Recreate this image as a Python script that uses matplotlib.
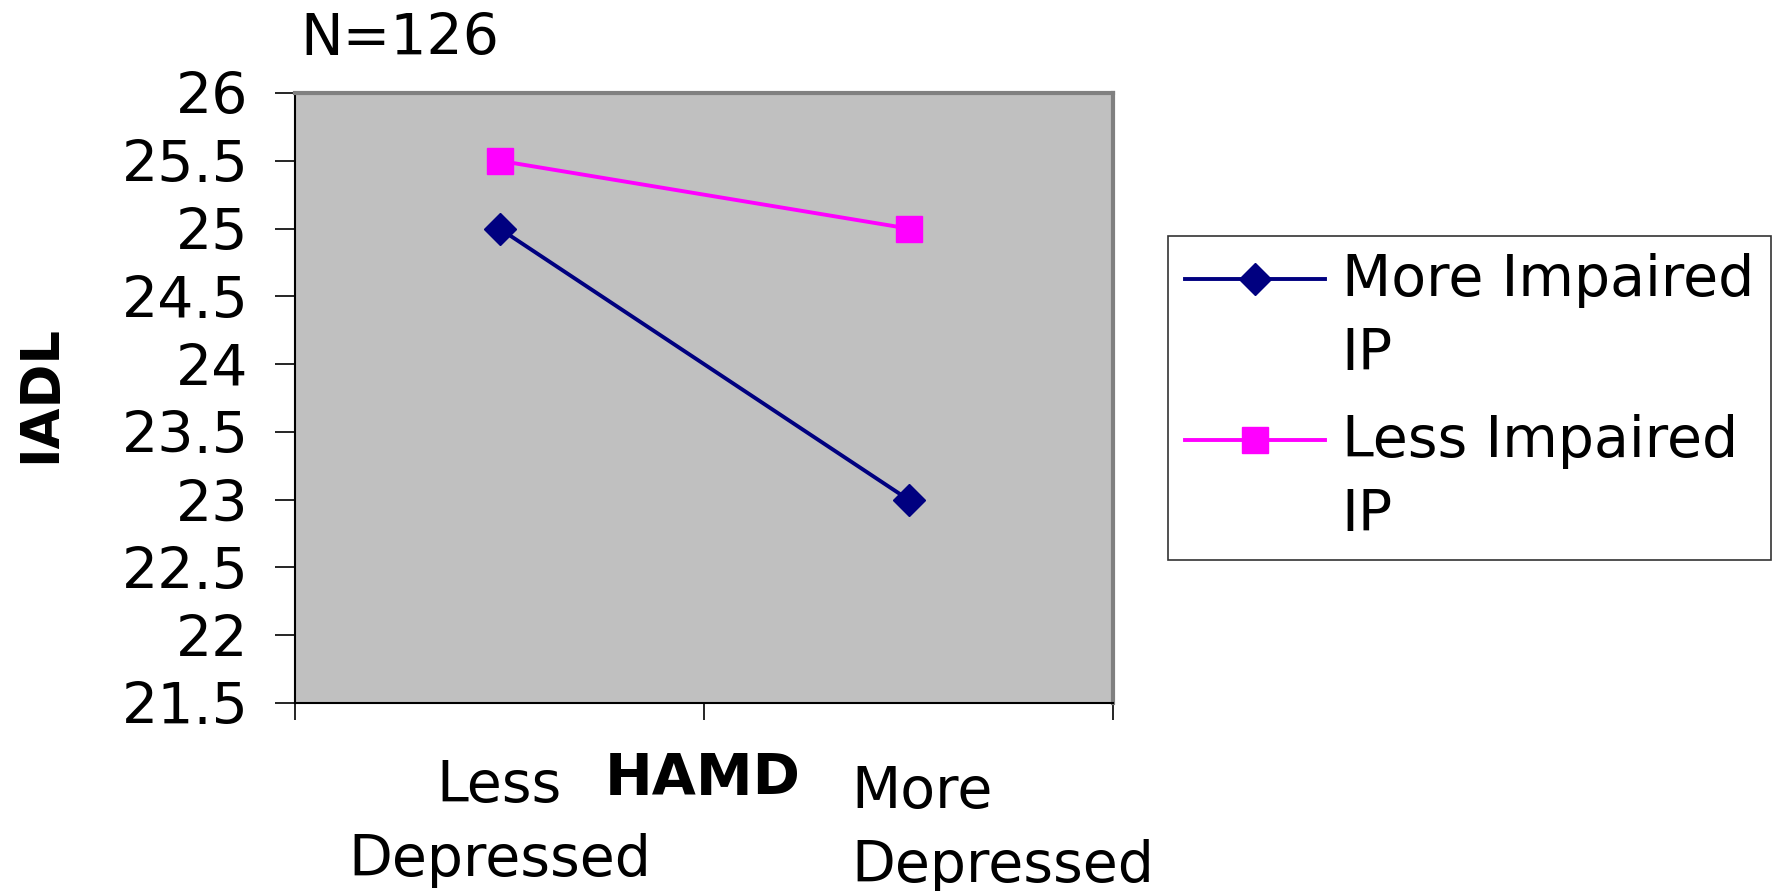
import matplotlib
matplotlib.use("Agg")
import matplotlib.pyplot as plt
from matplotlib.legend_handler import HandlerLine2D

categories = ["Less\nDepressed", "More\nDepressed"]
series_names = ["More Impaired\nIP", "Less Impaired\nIP"]
more_impaired = [25.0, 23.0]
less_impaired = [25.5, 25.0]
yticks = [21.5, 22, 22.5, 23, 23.5, 24, 24.5, 25, 25.5, 26]

plt.rcParams['font.family'] = ['DejaVu Sans']
FS = 41

W, H = 1777, 891
fig = plt.figure(figsize=(W / 100, H / 100), dpi=100)
ax = fig.add_axes([295 / W, 188 / H, 818 / W, 610 / H])
ax.set_facecolor('#C0C0C0')

x = [0.5, 1.5]
ax.plot(x, more_impaired, color='#000080', lw=2.8, marker='D', ms=16,
        markerfacecolor='#000080', markeredgecolor='#000080', label=series_names[0])
ax.plot(x, less_impaired, color='#FF00FF', lw=2.8, marker='s', ms=19,
        markerfacecolor='#FF00FF', markeredgecolor='#FF00FF', label=series_names[1])

ax.set_xlim(0, 2)
ax.set_ylim(21.5, 26)
ax.set_yticks(yticks)
ax.set_yticklabels([f"{v:g}" for v in yticks], fontsize=FS)
ax.set_xticks([0, 1, 2])
ax.set_xticklabels([])
ax.tick_params(axis='y', direction='out', length=14.4, width=1.2, color='black', pad=19)
ax.tick_params(axis='x', direction='out', length=12, width=1.2, color='black')

for s in ['top', 'right']:
    ax.spines[s].set_color('#808080')
    ax.spines[s].set_linewidth(3)
for s in ['left', 'bottom']:
    ax.spines[s].set_color('black')
    ax.spines[s].set_linewidth(1.5)

# category labels, one text per line
trans = ax.get_xaxis_transform()
line_gap = 74
first_offsets = [(0, -56, 'center'), (-57, -62, 'left')]
for xi, cat, (dx, dy, ha) in zip(x, categories, first_offsets):
    lines = cat.split('\n')
    for k, ln in enumerate(lines):
        ax.annotate(ln, xy=(xi, 0), xycoords=trans,
                    xytext=(dx, dy - k * line_gap), textcoords='offset pixels',
                    ha=ha, va='top', fontsize=FS)

ax.set_xlabel('HAMD', fontsize=FS, fontweight='bold', va='center')
ax.xaxis.set_label_coords(0.499, -0.126)
ax.set_ylabel('IADL', fontsize=38, fontweight='bold', va='center')
ax.yaxis.set_label_coords(-0.312, 0.507)

fig.text(300 / W, 1 - 55 / H, 'N=126', fontsize=FS, va='baseline', ha='left')


class ShiftedHandler(HandlerLine2D):
    def __init__(self, shift, **kw):
        super().__init__(**kw)
        self.shift = shift

    def create_artists(self, legend, orig_handle, xdescent, ydescent, width,
                       height, fontsize, trans):
        return super().create_artists(legend, orig_handle, xdescent,
                                      ydescent - 2 * self.shift, width, height,
                                      fontsize, trans)


handles, labels = ax.get_legend_handles_labels()
shift = 0.7 * FS
leg = ax.legend(handles, labels, loc='upper left',
                bbox_to_anchor=(1168 / W, 1 - 236 / H), bbox_transform=fig.transFigure,
                fontsize=FS, frameon=True, fancybox=False, shadow=False,
                handlelength=2.45, handletextpad=0.3, labelspacing=0.55,
                borderpad=0.3, borderaxespad=0,
                handler_map={h: ShiftedHandler(shift) for h in handles})
for t in leg.get_texts():
    t.set_linespacing(1.45)
leg.get_frame().set_edgecolor('black')
leg.get_frame().set_linewidth(1.2)

fig.savefig('out.png', dpi=100)
